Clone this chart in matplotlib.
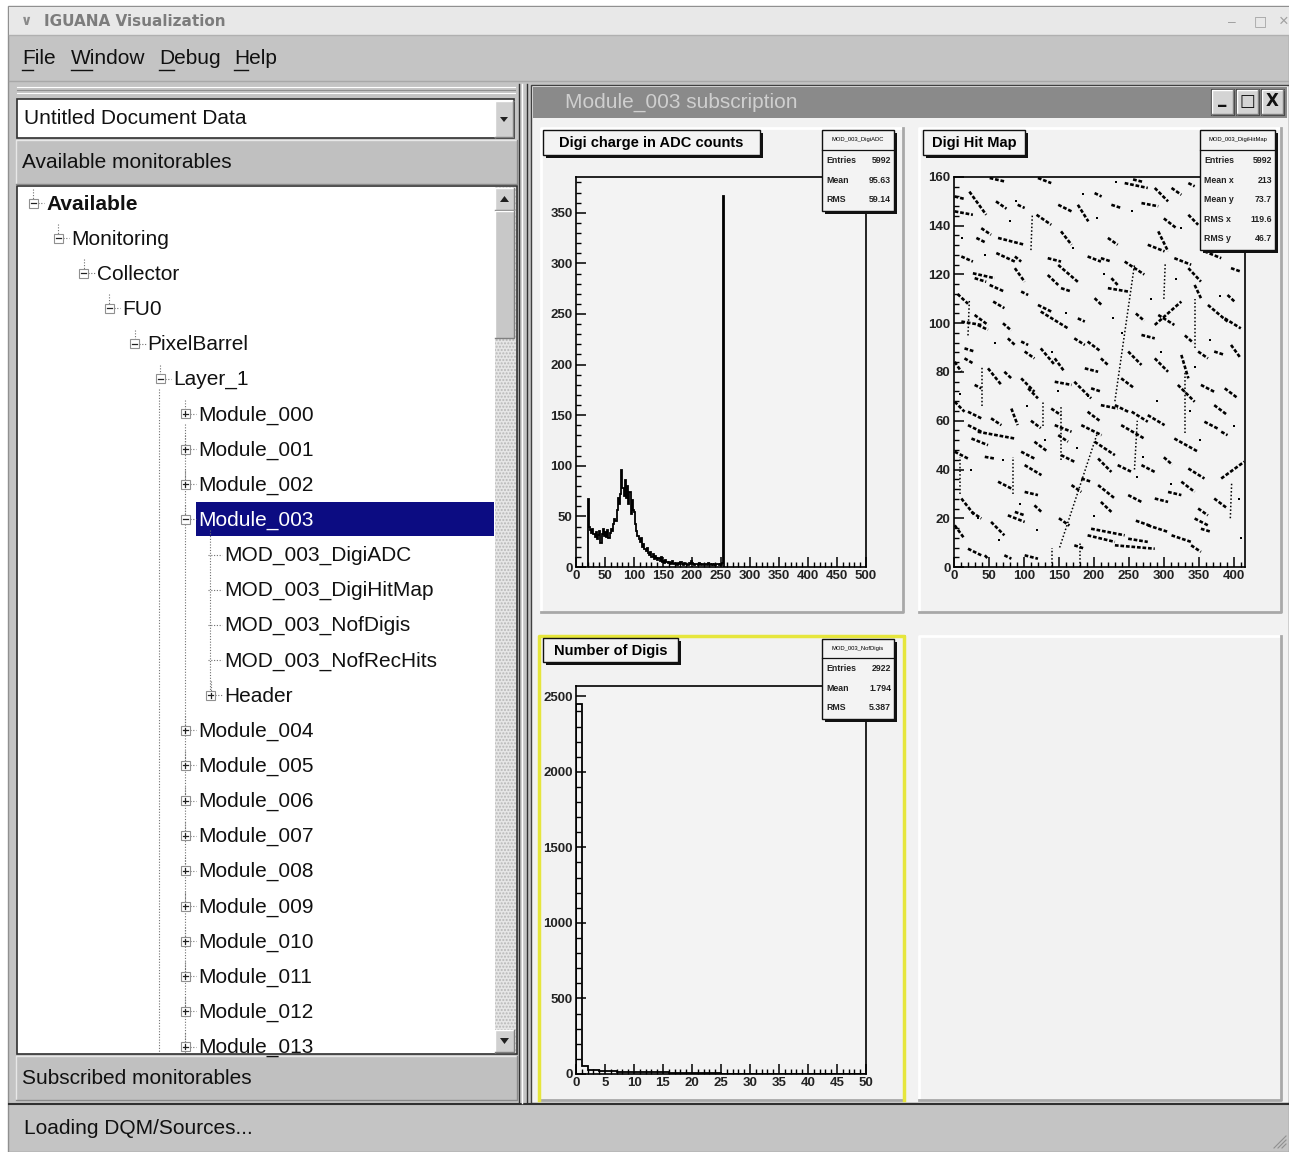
import numpy as np
import matplotlib.pyplot as plt
from matplotlib.patches import Rectangle, Polygon
from matplotlib.collections import LineCollection

W, H = 1289, 1152
plt.rcParams['font.family'] = ['Liberation Sans', 'DejaVu Sans']
plt.rcParams['hatch.color'] = '#b8b8b8'

# ---------------- data ----------------
menu_items = ['File', 'Window', 'Debug', 'Help']

tree_labels = ['Available', 'Monitoring', 'Collector', 'FU0', 'PixelBarrel', 'Layer_1',
               'Module_000', 'Module_001', 'Module_002', 'Module_003',
               'MOD_003_DigiADC', 'MOD_003_DigiHitMap', 'MOD_003_NofDigis', 'MOD_003_NofRecHits',
               'Header', 'Module_004', 'Module_005', 'Module_006', 'Module_007', 'Module_008',
               'Module_009', 'Module_010', 'Module_011', 'Module_012', 'Module_013']
tree_levels = [0, 1, 2, 3, 4, 5, 6, 6, 6, 6, 7, 7, 7, 7, 7, 6, 6, 6, 6, 6, 6, 6, 6, 6, 6]
tree_icons = ['-', '-', '-', '-', '-', '-', '+', '+', '+', '-', '', '', '', '', '+',
              '+', '+', '+', '+', '+', '+', '+', '+', '+', '+']
selected_item = 'Module_003'

# Digi charge in ADC counts (bins of 2 ADC starting at 20)
adc_start, adc_width = 20, 2
adc_counts = [67, 40, 37, 34, 38, 33, 30, 35, 28, 32, 36, 24, 33, 38, 31, 35, 30, 37, 29, 34,
              38, 36, 42, 47, 45, 56, 68, 62, 72, 96, 78, 70, 86, 68, 80, 62, 74, 52, 66, 56,
              54, 42, 36, 31, 28, 25, 29, 20, 23, 18, 16, 19, 14, 12, 15, 10, 13, 8, 11, 9,
              7, 9, 6, 10, 5, 6, 4, 7, 5, 4, 5, 3, 4, 6, 3, 4, 3, 2, 4, 3,
              5, 3, 2, 4, 3, 3, 2, 4, 3, 6, 4, 3, 2, 3, 3, 2, 4, 3, 2, 3,
              2, 3, 3, 2, 4, 3, 2, 3, 2, 3, 2, 3, 3, 2, 3, 2, 4, 367]
adc_stats = [('Entries', '5992'), ('Mean', '95.63'), ('RMS', '59.14')]

# Number of Digis (bins of 1 from 0 to 50)
ndigi_counts = [2446, 55, 28, 24, 20, 19, 17, 16, 15, 14, 16, 15, 13, 12, 12, 10, 9, 8, 7, 6,
                6, 5, 5, 4, 4, 3, 3, 2, 2, 2, 1, 1, 1, 1, 0, 1, 0, 0, 0, 0,
                0, 0, 0, 0, 0, 0, 0, 0, 0, 0]
ndigi_stats = [('Entries', '2922'), ('Mean', '1.794'), ('RMS', '5.387')]

# Digi hit map: clusters read as short streaks (x0, y0, x1, y1)
hit_streaks = [
    (22, 154, 46, 144.5), (1, 152, 15, 151), (1, 145.9, 27, 144.5), (51, 159.6, 72, 158.2),
    (91, 148.6, 101, 147.3), (120, 159.6, 139, 157.5), (118, 144.5, 139, 140.4),
    (149, 148.6, 168, 145.9), (177, 148.6, 192, 141.8), (201, 153.4, 211, 152),
    (225, 148.6, 239, 147.3), (244, 157.5, 277, 155.5), (268, 149.3, 292, 148),
    (287, 155.5, 306, 150), (311, 155.5, 325, 152.7), (335, 157.5, 344, 156.2),
    (335, 144.5, 349, 140.4), (39, 139, 53, 136.3), (32, 135, 46, 133), (63, 135, 101, 132.2),
    (10.5, 127.4, 27, 125.3), (60.5, 128.8, 87, 125.3), (87, 127.4, 96, 125.3),
    (134, 126.7, 153, 125.3), (153, 137.7, 168, 132.2), (220, 135, 234, 132.2),
    (191, 127.4, 210, 125.3), (210, 126.7, 225, 125.3), (244, 125.3, 272, 120),
    (277, 132.2, 301, 129.5), (292, 137.7, 306, 129.5), (315, 126.7, 339, 124),
    (335, 122.6, 353, 117.1), (358, 129.5, 382, 126.7), (396, 122.6, 410, 121.2),
    (27, 120.5, 58, 118.5), (29.5, 118.5, 46, 117), (87, 122.6, 101, 117),
    (134, 119.8, 149, 115.7), (149, 123.9, 177, 117), (153, 114.4, 168, 113),
    (51, 115.7, 72, 113), (56, 108.9, 72, 106.2), (96, 113, 106, 111.6),
    (120, 107.5, 139, 104.8), (124, 104.8, 163, 97.9), (201, 110.3, 211, 107.5),
    (220, 114.4, 249, 113), (225, 118.5, 234, 115.7), (287, 99.3, 325, 108.9),
    (292, 103.4, 315, 99.3), (344, 115.7, 353, 110.3), (363, 107.5, 391, 100.7),
    (387, 102, 410, 97.9), (391, 111.6, 401, 108.9), (10.5, 100.7, 39, 99.3),
    (29.5, 103.4, 48.6, 99.3), (34, 99.3, 48.6, 97.3), (177, 102, 187, 100.7),
    (15, 89.7, 29.5, 88.4), (15, 85.6, 27, 83.6), (1, 84.2, 10.5, 80.1),
    (77, 93.8, 87, 91.1), (96, 92.5, 106, 91.1), (101, 88.4, 115, 85.6),
    (124, 89.7, 144, 82.9), (144, 85.6, 158, 80.1), (172, 93.8, 187, 91.1),
    (191, 92.5, 210, 88.4), (210, 85.6, 220, 82.9), (187, 81.5, 206, 80.1),
    (249, 88.4, 268, 82.9), (268, 95.2, 287, 93.8), (287, 85.6, 306, 80.1),
    (325, 87, 335, 77.4), (349, 88.4, 363, 85.6), (372, 88.4, 387, 87),
    (396, 91.1, 410, 85.6), (48.6, 81.5, 67.7, 74.7), (72, 80.1, 82, 77.4),
    (29.5, 74.7, 39, 73.3), (96, 77.4, 115, 71.9), (106, 73.3, 120, 69.2),
    (144, 76, 168, 74.7), (172, 76, 196, 69.2), (196, 73.3, 211, 71.9),
    (239, 77.4, 258, 73.3), (230, 66.4, 249, 63.7), (320, 74.7, 344, 67.8),
    (353, 74.7, 372, 71.9), (387, 73.3, 406, 69.2), (372, 66.4, 391, 62.3),
    (1, 67.8, 15, 63.7), (20, 63.7, 39, 61), (53, 61, 67.7, 58.2), (82, 65, 91, 58.2),
    (139, 65, 153, 62.3), (191, 63.7, 210, 59.6), (210, 66.4, 234, 65),
    (254, 63.7, 277, 59.6), (277, 62.3, 301, 58.2), (20, 58.2, 39, 55.5),
    (34, 55.5, 87, 52.7), (25, 52.7, 48.6, 50), (115, 51.4, 134, 47.3),
    (144, 58.2, 168, 55.5), (149, 54.1, 163, 51.4), (182, 58.2, 211, 54.1),
    (201, 51.4, 230, 45.9), (239, 58.2, 272, 52.7), (315, 52.7, 349, 47.3),
    (358, 59.6, 377, 56.8), (382, 55.5, 391, 54.1), (1, 47.3, 20, 44.5),
    (44, 45.2, 58, 44.5), (96, 47.3, 115, 44.5), (101, 41.8, 125, 37.7),
    (153, 45.9, 172, 43.2), (206, 44.5, 225, 39), (234, 41.8, 254, 39),
    (268, 41.8, 287, 39), (335, 40.4, 358, 36.3), (382, 36.3, 415, 43.2),
    (63, 35, 82, 32.2), (101, 30.8, 120, 29.5), (115, 25.3, 125, 22.6),
    (168, 33.6, 182, 30.8), (182, 36.3, 197, 34.9), (206, 33.6, 230, 28.1),
    (210, 26.7, 225, 22.6), (249, 29.5, 268, 26.7), (287, 28.1, 306, 26.7),
    (306, 30.8, 325, 29.5), (325, 35, 344, 30.8), (349, 24, 363, 21.2),
    (372, 28.1, 391, 24), (10.5, 28.1, 29.5, 21.2), (25, 22.6, 39, 19.9),
    (77, 21.2, 101, 18.5), (87, 22.6, 101, 21.2), (1, 17.1, 15, 11.6),
    (53, 18.5, 72, 13), (20, 7.5, 39, 4.8), (44, 4.8, 48.6, 3.4), (72, 4.8, 82, 3.4),
    (101, 4.8, 120, 3.4), (172, 8.9, 187, 7.5), (191, 13, 230, 10.3),
    (196, 15.7, 244, 13), (230, 8.9, 287, 7.5), (249, 11.6, 277, 10.3),
    (277, 17.1, 306, 14.4), (311, 13, 339, 10.3), (344, 19.9, 363, 17.1),
    (353, 15.7, 368, 14.4), (339, 8.9, 353, 6.2), (256, 159, 270, 158),
    (300, 143, 318, 139), (60, 150, 75, 147), (398, 140, 412, 137), (395, 150, 408, 146),
    (5, 112, 20, 108), (70, 100, 82, 97), (260, 104, 272, 101), (330, 95, 342, 92),
    (110, 60, 124, 57), (300, 45, 312, 42), (150, 20, 165, 17), (260, 19, 280, 17),
]
# long tracks and sparse dotted lines
hit_tracks = [(151, 8, 205, 55), (230, 68, 258, 124), (153, 44, 153, 66), (127, 58, 127, 68),
              (330, 55, 330, 80), (40, 66, 40, 82), (85, 30, 85, 45), (258, 40, 262, 60),
              (345, 90, 345, 110), (180, 0, 180, 10), (140, 0, 140, 8), (20, 95, 22, 110),
              (8, 30, 8, 45), (300, 110, 302, 125), (395, 20, 397, 35), (110, 130, 112, 145)]
# isolated single hits
hit_x = [12, 35, 58, 80, 104, 130, 160, 185, 215, 240, 262, 290, 318, 345, 372, 400,
         8, 45, 70, 95, 140, 170, 200, 228, 255, 282, 310, 338, 366, 392, 410, 65,
         118, 148, 176, 205, 232, 270, 296, 324, 352, 380, 408, 24, 88, 192]
hit_y = [135, 20, 92, 142, 66, 52, 104, 153, 120, 96, 37, 68, 118, 82, 140, 58,
         71, 128, 44, 26, 88, 131, 21, 102, 146, 110, 34, 64, 93, 152, 12, 11,
         15, 72, 49, 143, 158, 45, 88, 139, 52, 111, 28, 40, 150, 70]
hit_stats = [('Entries', '5992'), ('Mean x', '213'), ('Mean y', '73.7'),
             ('RMS x', '119.6'), ('RMS y', '46.7')]

# ---------------- figure ----------------
fig = plt.figure(figsize=(W / 100, H / 100), dpi=100)
gui = fig.add_axes([0, 0, 1, 1])
gui.set_xlim(0, W)
gui.set_ylim(H, 0)
gui.axis('off')


def box(ax, x0, y0, x1, y1, fc, ec='none', lw=1.0, z=1, **kw):
    r = Rectangle((x0, y0), x1 - x0, y1 - y0, facecolor=fc, edgecolor=ec, lw=lw, zorder=z, **kw)
    ax.add_patch(r)
    return r


def bevel(ax, x0, y0, x1, y1, light='#ffffff', dark='#808080', lw=1.0, z=2):
    ax.plot([x0, x0, x1], [y1, y0, y0], color=light, lw=lw, zorder=z)
    ax.plot([x0, x1, x1], [y1, y1, y0], color=dark, lw=lw, zorder=z)


GRAY = '#c4c4c4'

# window background & title bar
box(gui, 0, 0, W, H, 'white', z=0)
box(gui, 8, 6, W, H, GRAY, ec='#909090', lw=1.0, z=0.5)
box(gui, 9, 7, W, 35, '#e8e8e8', z=1)
gui.plot([9, W], [35, 35], color='#b0b0b0', lw=1, zorder=2)
gui.text(27, 21, '\u2228', fontsize=10, color='#8a8a8a', ha='center', va='center', fontweight='bold',
         family=['DejaVu Sans'])
gui.text(44, 21, 'IGUANA Visualization', fontsize=11, color='#7c7c7c', fontweight='bold',
         ha='left', va='center', family=['DejaVu Sans'])
gui.text(1232, 22, '\u2013', fontsize=10, color='#a0a0a0', ha='center', va='center')
gui.text(1260, 21, '\u25a1', fontsize=10, color='#a0a0a0', ha='center', va='center',
         family=['DejaVu Sans'])
gui.text(1284, 21, '\u00d7', fontsize=12, color='#a0a0a0', ha='center', va='center')

# menu bar
menu_x = [22, 71, 159, 234]
menu_ul = [11, 21, 15, 14]
for lab, mx, ul in zip(menu_items, menu_x, menu_ul):
    gui.text(mx, 58, lab, fontsize=15, color='#111111', ha='left', va='center')
    gui.plot([mx, mx + ul], [70, 70], color='#111111', lw=1.0, zorder=3)
gui.plot([9, W], [81, 81], color='#a8a8a8', lw=1, zorder=2)

# left splitter handle
for yy in (87, 90, 93):
    gui.plot([17, 515], [yy, yy], color='#ffffff' if yy != 90 else '#909090', lw=0.8, zorder=2)

# combo box
box(gui, 17, 99, 514, 138, 'white', ec='#303030', lw=1.2, z=2)
box(gui, 495, 101, 513, 137, '#d0d0d0', z=3)
bevel(gui, 495, 101, 513, 137, z=4)
gui.add_patch(Polygon([[500, 117], [508, 117], [504, 122]], closed=True, fc='#202020', zorder=5))
gui.text(24, 118, 'Untitled Document Data', fontsize=15, color='#111111', ha='left', va='center')

# "Available monitorables" header
box(gui, 16, 140, 517, 184, '#c0c0c0', z=2)
bevel(gui, 16, 140, 517, 184, light='#e8e8e8', dark='#8a8a8a', z=3)
gui.text(22, 162, 'Available monitorables', fontsize=15, color='#111111', ha='left', va='center')

# tree view
box(gui, 17, 186, 517, 1054, 'white', ec='#303030', lw=1.2, z=2)
clip = Rectangle((18, 187), 477, 866, transform=gui.transData)

row0, row_h = 203, 35.15
for i, (lab, lev, icon) in enumerate(zip(tree_labels, tree_levels, tree_icons)):
    y = row0 + i * row_h
    tx = 46 + 25.4 * lev
    ix = tx - 13
    if lab == selected_item:
        box(gui, tx - 2, y - 17, 494, y + 17, '#0c0c82', z=3)
        col = 'white'
    else:
        col = '#111111'
    t = gui.text(tx, y + 1, lab, fontsize=15, color=col, ha='left', va='center', zorder=6,
                 fontweight='bold' if lev == 0 else 'normal')
    t.set_clip_path(clip)
    if icon:
        b = box(gui, ix - 4.5, y - 4.5, ix + 4.5, y + 4.5, 'white', ec='#909090', lw=0.8, z=5)
        b.set_clip_path(clip)
        ln, = gui.plot([ix - 2.5, ix + 2.5], [y, y], color='#202020', lw=0.9, zorder=6)
        ln.set_clip_path(clip)
        if icon == '+':
            ln, = gui.plot([ix, ix], [y - 2.5, y + 2.5], color='#202020', lw=0.9, zorder=6)
            ln.set_clip_path(clip)
        ln, = gui.plot([ix + 4.5, tx - 2], [y, y], color='#707070', lw=0.8, ls=(0, (1, 1.5)), zorder=4)
        ln.set_clip_path(clip)
        ln, = gui.plot([ix, ix], [y - 14, y - 4.5], color='#707070', lw=0.8, ls=(0, (1, 1.5)), zorder=4)
        ln.set_clip_path(clip)
    else:
        ln, = gui.plot([ix - 3, tx - 2], [y, y], color='#707070', lw=0.8, ls=(0, (1, 1.5)), zorder=4)
        ln.set_clip_path(clip)

# long dotted guide lines of the tree
for gx, gy0, gy1 in [(159, 389, 1054), (184.5, 424, 1054), (210, 530, 697)]:
    ln, = gui.plot([gx, gx], [gy0, gy1], color='#707070', lw=0.8, ls=(0, (1, 1.5)), zorder=4)
    ln.set_clip_path(clip)

# scrollbar
box(gui, 495, 187, 516, 1053, '#e6e6e6', ec='#b8b8b8', lw=0, z=3, hatch='.....')
box(gui, 495, 188, 514, 210, '#d0d0d0', z=4)
bevel(gui, 495, 188, 514, 210, z=5)
gui.add_patch(Polygon([[500, 202], [509, 202], [504.5, 196]], closed=True, fc='#202020', zorder=6))
box(gui, 495, 211, 514, 338, '#c8c8c8', z=4)
bevel(gui, 495, 211, 514, 338, z=5)
box(gui, 495, 1030, 514, 1052, '#d0d0d0', z=4)
bevel(gui, 495, 1030, 514, 1052, z=5)
gui.add_patch(Polygon([[500, 1038], [509, 1038], [504.5, 1044]], closed=True, fc='#202020', zorder=6))

# subscribed monitorables header & status bar
box(gui, 16, 1056, 517, 1100, '#c0c0c0', z=2)
bevel(gui, 16, 1056, 517, 1100, light='#e8e8e8', dark='#8a8a8a', z=3)
gui.text(22, 1079, 'Subscribed monitorables', fontsize=15, color='#111111', ha='left', va='center')
gui.plot([9, W], [1104, 1104], color='#303030', lw=1.5, zorder=3)
gui.text(24, 1129, 'Loading DQM/Sources...', fontsize=15, color='#111111', ha='left', va='center')
for k in range(3):
    gui.plot([1274 + 4 * k, 1286], [1148, 1136 + 4 * k], color='#909090', lw=0.8, zorder=3)

# vertical splitter
for xx, c in [(519, '#303030'), (522, '#ffffff'), (527, '#303030')]:
    gui.plot([xx, xx], [84, 1103], color=c, lw=1.0, zorder=3)

# MDI sub-window
box(gui, 531, 85, 1289, 1103, '#f2f2f2', ec='#404040', lw=1.0, z=2)
box(gui, 533, 87, 1287, 118, '#8a8a8a', z=3)
gui.text(565, 102, 'Module_003 subscription', fontsize=15, color='#cfcfcf', ha='left', va='center', zorder=4)
for bx, sym in [(1211, '_'), (1236, '\u25a1'), (1261, 'X')]:
    box(gui, bx, 89, bx + 23, 115, '#d4d4d4', ec='#404040', lw=0.8, z=4)
    bevel(gui, bx + 1, 90, bx + 22, 114, z=5)
    gui.text(bx + 11.5, 101 if sym != '_' else 98, sym, fontsize=12, color='#111111', ha='center',
             va='center', fontweight='bold', zorder=6, family=['DejaVu Sans'])

# pads
pads = [(541, 128, 903, 612), (919, 128, 1281, 612), (539, 636, 904, 1100), (919, 636, 1281, 1100)]
for (x0, y0, x1, y1) in pads:
    box(gui, x0, y0, x1, y1, '#f2f2f2', z=3)
    bevel(gui, x0, y0, x1, y1, light='#ffffff', dark='#a8a8a8', lw=2.0, z=4)
sx0, sy0, sx1, sy1 = pads[2]
gui.plot([sx0, sx0, sx1, sx1], [sy1, sy0, sy0, sy1], color='#e6e63c', lw=2.5, zorder=5)


# ---------------- ROOT plots ----------------
def px_axes(x0, y0, x1, y1):
    return fig.add_axes([x0 / W, 1 - y1 / H, (x1 - x0) / W, (y1 - y0) / H])


def root_style(ax, major, minor):
    ax.set_facecolor('#f3f3f3')
    for s in ax.spines.values():
        s.set_linewidth(1.2)
        s.set_color('black')
    ax.xaxis.set_major_locator(plt.MultipleLocator(major[0]))
    ax.xaxis.set_minor_locator(plt.MultipleLocator(minor[0]))
    ax.yaxis.set_major_locator(plt.MultipleLocator(major[1]))
    ax.yaxis.set_minor_locator(plt.MultipleLocator(minor[1]))
    ax.tick_params(which='major', direction='in', length=7, width=1.1, top=False, right=False,
                   labelsize=9.5, pad=2.5)
    ax.tick_params(which='minor', direction='in', length=3.5, width=1.0, top=False, right=False)
    for lab in ax.get_xticklabels() + ax.get_yticklabels():
        lab.set_fontweight('bold')
        lab.set_color('#222222')


ax1 = px_axes(576, 177, 866, 567)
adc_edges = adc_start + adc_width * np.arange(len(adc_counts) + 1)
ax1.stairs(adc_counts, adc_edges, color='black', lw=1.3, baseline=0)
ax1.set_xlim(0, 500)
ax1.set_ylim(0, 1.05 * max(adc_counts))
root_style(ax1, (50, 50), (10, 10))

ax2 = px_axes(954, 177, 1245, 567)
ax2.add_collection(LineCollection([[(a, b), (c, d)] for a, b, c, d in hit_streaks],
                                  colors='black', linewidths=1.9, linestyles=[(0, (1.4, 0.7))]))
ax2.add_collection(LineCollection([[(a, b), (c, d)] for a, b, c, d in hit_tracks],
                                  colors='black', linewidths=1.1, linestyles=[(0, (1, 1.4))]))
ax2.scatter(hit_x, hit_y, s=2.5, c='black', marker='s', linewidths=0)
ax2.set_xlim(0, 416)
ax2.set_ylim(0, 160)
root_style(ax2, (50, 20), (10, 4))

ax3 = px_axes(576, 686, 866, 1074)
nd_edges = np.arange(len(ndigi_counts) + 1)
ax3.stairs(ndigi_counts, nd_edges, color='black', lw=1.3, baseline=0)
ax3.set_xlim(0, 50)
ax3.set_ylim(0, 1.05 * max(ndigi_counts))
root_style(ax3, (5, 500), (1, 100))

# ---------------- overlay: titles and stat boxes ----------------
ov = fig.add_axes([0, 0, 1, 1])
ov.set_xlim(0, W)
ov.set_ylim(H, 0)
ov.axis('off')
ov.patch.set_alpha(0)


def title_box(x0, y0, x1, y1, text):
    box(ov, x0 + 3, y0 + 3, x1 + 3, y1 + 3, '#111111', z=1)
    box(ov, x0, y0, x1, y1, '#f3f3f3', ec='#111111', lw=1.0, z=2)
    ov.text((x0 + x1) / 2, (y0 + y1) / 2 + 0.5, text, fontsize=10.5, fontweight='bold',
            ha='center', va='center', zorder=3)


def stats_box(x0, y0, x1, y_div, name, rows, row_h):
    y1 = y_div + row_h * len(rows) + 2
    box(ov, x0 + 3, y0 + 3, x1 + 3, y1 + 3, '#111111', z=1)
    box(ov, x0, y0, x1, y1, '#f3f3f3', ec='#111111', lw=1.0, z=2)
    ov.plot([x0, x1], [y_div, y_div], color='#111111', lw=0.9, zorder=3)
    ov.text((x0 + x1) / 2, (y0 + y_div) / 2, name, fontsize=4.2, ha='center', va='center', zorder=3)
    for k, (lab, val) in enumerate(rows):
        yy = y_div + row_h * (k + 0.5) + 1
        ov.text(x0 + 4, yy, lab, fontsize=6.3, fontweight='bold', color='#222222',
                ha='left', va='center', zorder=3)
        ov.text(x1 - 3, yy, val, fontsize=6.3, fontweight='bold', color='#222222',
                ha='right', va='center', zorder=3)


title_box(543, 130, 760, 155, 'Digi charge in ADC counts')
title_box(923, 130, 1025, 155, 'Digi Hit Map')
title_box(543, 638, 678, 662, 'Number of Digis')
stats_box(822, 130, 894, 150, 'MOD_003_DigiADC', adc_stats, 19.5)
stats_box(1200, 130, 1275, 150, 'MOD_003_DigiHitMap', hit_stats, 19.5)
stats_box(822, 639, 894, 658, 'MOD_003_NofDigis', ndigi_stats, 19.5)

fig.savefig('out.png', dpi=100)
